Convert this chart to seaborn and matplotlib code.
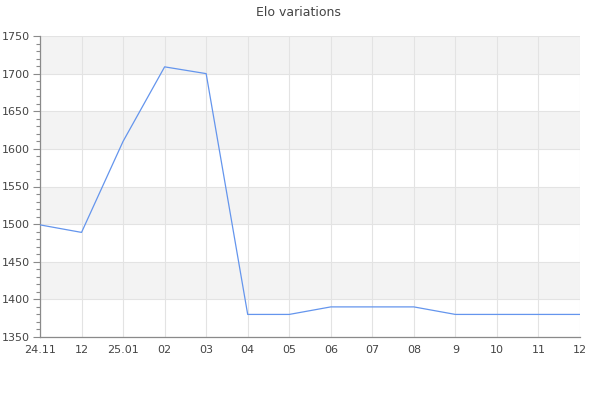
import numpy as np
import pandas as pd
import matplotlib
matplotlib.use("Agg")
import matplotlib.pyplot as plt
import seaborn as sns
from matplotlib.ticker import MultipleLocator

# Data
dates = ["24.11", "12", "25.01", "02", "03", "04", "05",
         "06", "07", "08", "9", "10", "11", "12"]
elo = [1499, 1489, 1610, 1709, 1700, 1380, 1380,
       1390, 1390, 1390, 1380, 1380, 1380, 1380]
y_min, y_max, y_step = 1350, 1750, 50

df = pd.DataFrame({"pos": np.arange(len(dates)), "elo": elo})

sns.set_theme(style="white")
plt.rcParams["font.family"] = ["DejaVu Sans"]

fig = plt.figure(figsize=(6, 4), dpi=100)
ax = fig.add_axes([40 / 600, 1 - 337 / 400, 540 / 600, 301 / 400])

# alternating bands
ticks = np.arange(y_min, y_max + 1, y_step)
for i, lo in enumerate(ticks[:-1]):
    if i % 2 == 1:
        ax.axhspan(lo, lo + y_step, color="#f3f3f3", zorder=0, lw=0)

sns.lineplot(data=df, x="pos", y="elo", ax=ax, color="#6495ed", lw=0.9, zorder=3)

ax.set_xlim(0, len(dates) - 1)
ax.set_ylim(y_min, y_max)
ax.set_xticks(df["pos"])
ax.set_xticklabels(dates)
ax.set_yticks(ticks)
ax.yaxis.set_minor_locator(MultipleLocator(10))

ax.grid(True, which="major", color="#e3e3e3", lw=0.8, zorder=1)
ax.set_axisbelow(True)

for side in ["top", "right"]:
    ax.spines[side].set_visible(False)
for side in ["left", "bottom"]:
    ax.spines[side].set_color("#8a8a8a")
    ax.spines[side].set_linewidth(0.9)

ax.tick_params(axis="x", length=0, pad=6, labelsize=8, labelcolor="#444444")
ax.tick_params(axis="y", which="major", length=5, width=0.8, color="#8a8a8a",
               left=True, labelsize=8, labelcolor="#444444", pad=2)
ax.tick_params(axis="y", which="minor", length=3, width=0.8, color="#8a8a8a", left=True)

ax.set_xlabel("")
ax.set_ylabel("")
fig.suptitle("Elo variations", x=298 / 600, y=1 - 12 / 400, va="center",
             fontsize=9, color="#444444")

fig.savefig("out.png", dpi=100)
